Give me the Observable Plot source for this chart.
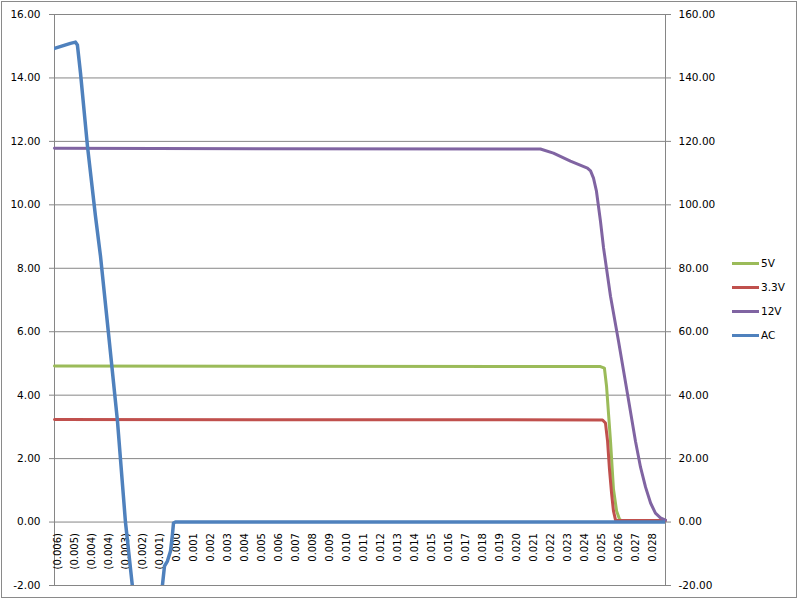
<!DOCTYPE html>
<html>
<head>
<meta charset="utf-8">
<script src="https://cdn.jsdelivr.net/npm/d3@7"></script>
<script src="https://cdn.jsdelivr.net/npm/@observablehq/plot@0.6"></script>
<style>
  body { margin: 0; background: #fff; }
  #wrap { position: relative; width: 800px; height: 600px; font-family: "DejaVu Sans", sans-serif; }
  #border { position: absolute; left: 1px; top: 1px; width: 796px; height: 597px; border: 1px solid #8a8a8a; box-sizing: border-box; pointer-events: none; }
  #legend { position: absolute; left: 732px; top: 251px; font-size: 10.5px; color: #000; }
  .row { height: 24px; display: flex; align-items: center; }
  .sw { width: 27px; height: 3px; margin-right: 2px; }
</style>
</head>
<body>
<div id="wrap"><div id="border"></div><div id="legend"></div></div>
<script>
// ---- Category (time) axis labels, seconds, shown as Excel formats them ----
const xTickLabels = ["(0.006)","(0.005)","(0.004)","(0.004)","(0.003)","(0.002)","(0.001)","0.000",
  "0.001","0.002","0.003","0.004","0.005","0.006","0.007","0.008","0.009","0.010",
  "0.011","0.012","0.013","0.014","0.015","0.016","0.017","0.018","0.019","0.020",
  "0.021","0.022","0.023","0.024","0.025","0.026","0.027","0.028"];
const xTickStart = -6.45;   // ms, first labelled sample
const xTickStep = 0.98;     // ms between labelled samples
const xDomain = [-6.65, 28.57]; // ms

// ---- Value axes ----
const yTicks = [-2, 0, 2, 4, 6, 8, 10, 12, 14, 16];   // left axis (DC volts)
const acScale = 10;                                     // right axis = left * 10

// ---- Series (time in ms, value) ----
const t5V  = [-6.65, 24.82, 25.05, 25.17, 25.40, 25.57, 25.75, 25.92, 26.03, 28.57];
const v5V  = [4.92, 4.90, 4.85, 4.29, 2.55, 1.04, 0.35, 0.09, 0.05, 0.05];

const t33V = [-6.65, 24.94, 25.11, 25.23, 25.34, 25.46, 25.57, 25.69, 28.57];
const v33V = [3.23, 3.22, 3.12, 2.55, 1.67, 0.91, 0.35, 0.06, 0.05];

const t12V = [-6.65, 21.36, 22.11, 23.09, 24.07, 24.25, 24.42, 24.59, 24.82, 25.00,
  25.40, 25.86, 26.38, 26.84, 27.13, 27.42, 27.71, 27.99, 28.28, 28.57];
const v12V = [11.78, 11.76, 11.63, 11.38, 11.16, 11.07, 10.84, 10.43, 9.49, 8.64,
  7.12, 5.71, 4.04, 2.55, 1.73, 1.10, 0.60, 0.28, 0.13, 0.06];

const tAC = [-6.65, -6.19, -5.73, -5.44, -5.33, -5.15, -4.75, -4.29, -4.00, -3.54, -3.02,
  -2.56, -2.16, -1.69, -0.94, -0.43, -0.31, -0.14, 0.04, 0.15, 0.21, 0.32, 28.57];
const vAC = [149.3, 150.1, 150.9, 151.3, 150.4, 141.5, 118.5, 96.5, 83.9, 59.6, 31.8,
  0, -20.2, -45, -45, -20, -13.9, -12.3, -9.1, -3.8, -0.3, 0, 0];

const seriesNames = ["5V", "3.3V", "12V", "AC"];
const seriesColors = ["#9BBB59", "#C0504D", "#8064A2", "#4F81BD"];

const toRows = (t, v, k = 1) => t.map((x, i) => ({t: x, v: v[i] / k}));

const grid = "#868686";
const chart = Plot.plot({
  width: 800,
  height: 600,
  marginLeft: 54,
  marginRight: 135,
  marginTop: 14,
  marginBottom: 15,
  style: {fontFamily: "DejaVu Sans", fontSize: "10.5px", background: "transparent", color: "black"},
  x: {domain: xDomain, axis: null},
  y: {domain: [yTicks[0], yTicks[yTicks.length - 1]], axis: null},
  marks: [
    Plot.gridY(yTicks, {stroke: grid, strokeOpacity: 1}),
    Plot.frame({stroke: grid}),
    Plot.axisY(yTicks, {anchor: "left", label: null, tickSize: 5, tickPadding: 9, tickFormat: d => d.toFixed(2),
      stroke: grid, fill: "black", fontSize: 10.5}),
    Plot.axisY(yTicks, {anchor: "right", label: null, tickSize: 5, tickPadding: 8, tickFormat: d => (d * acScale).toFixed(2),
      stroke: grid, fill: "black", fontSize: 10.5}),
    Plot.text(xTickLabels, {
      x: (d, i) => xTickStart + i * xTickStep,
      y: () => 0,
      text: d => d,
      rotate: -90,
      textAnchor: "end",
      lineAnchor: "middle",
      dy: 11,
      fontSize: 10,
      fill: "black"
    }),
    Plot.line(toRows(t5V, v5V), {x: "t", y: "v", stroke: seriesColors[0], strokeWidth: 3}),
    Plot.line(toRows(t33V, v33V), {x: "t", y: "v", stroke: seriesColors[1], strokeWidth: 3}),
    Plot.line(toRows(t12V, v12V), {x: "t", y: "v", stroke: seriesColors[2], strokeWidth: 3}),
    Plot.line(toRows(tAC, vAC, acScale), {x: "t", y: "v", stroke: seriesColors[3], strokeWidth: 3.5, clip: true})
  ]
});
chart.style.position = "absolute";
chart.style.left = "0";
chart.style.top = "0";
document.getElementById("wrap").prepend(chart);

const legend = document.getElementById("legend");
seriesNames.forEach((name, i) => {
  const row = document.createElement("div");
  row.className = "row";
  const sw = document.createElement("span");
  sw.className = "sw";
  sw.style.background = seriesColors[i];
  const lab = document.createElement("span");
  lab.textContent = name;
  row.append(sw, lab);
  legend.append(row);
});
</script>
</body>
</html>
